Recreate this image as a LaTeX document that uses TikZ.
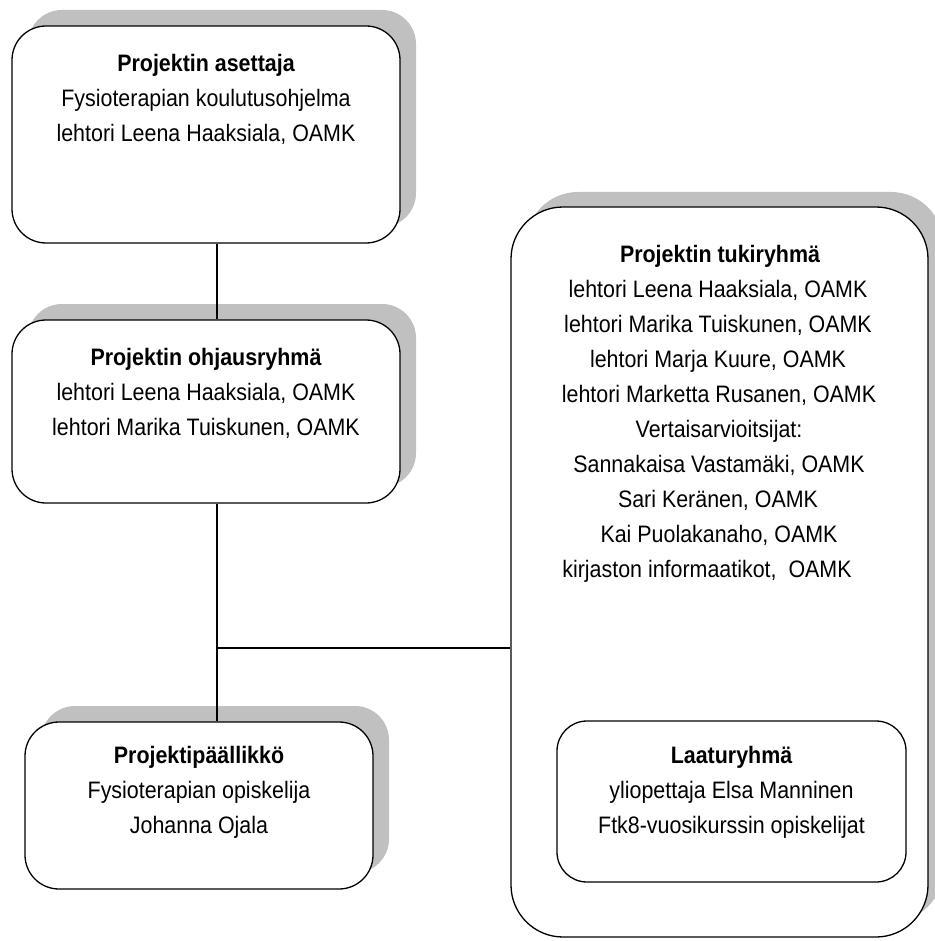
\documentclass[tikz,border=0pt]{standalone}
\usepackage{fontspec}
\setmainfont[FakeStretch=0.9]{Liberation Sans}
\definecolor{shadowgray}{HTML}{C0C0C0}
\begin{document}
\begin{tikzpicture}[x=1pt,y=-1pt,
  box/.style={draw, line width=1.3pt, fill=white, rounded corners=34pt, inner sep=0pt, rectangle},
  bigbox/.style={box, rounded corners=52pt},
  innerbox/.style={box, rounded corners=30pt},
  shadowbox/.style={fill=shadowgray, rounded corners=34pt, inner sep=0pt, rectangle},
  bigshadow/.style={shadowbox, rounded corners=52pt},
  txt/.style={anchor=base, inner sep=0pt, font=\fontsize{23.8}{28}\selectfont},
  ttl/.style={txt, font=\fontsize{23.8}{28}\selectfont\bfseries},
  conn/.style={line width=1.3pt}
]
\useasboundingbox (0,0) rectangle (934,941);
\fill[white] (0,0) rectangle (934,941);

% shadows
\node[shadowbox, minimum width=388pt, minimum height=217pt] (s1) at (222,118.5) {};
\node[shadowbox, minimum width=388pt, minimum height=183pt] (s2) at (222,395.5) {};
\node[shadowbox, minimum width=348pt, minimum height=167pt] (s3) at (215,789.5) {};
\node[bigshadow, minimum width=417pt, minimum height=730pt] (s4) at (734.5,557) {};

% connectors
\coordinate (j) at (217,648);

% boxes
\node[box, minimum width=388pt, minimum height=217pt] (b1) at (206,134.5) {};
\node[box, minimum width=388pt, minimum height=183pt] (b2) at (206,411.5) {};
\node[box, minimum width=348pt, minimum height=167pt] (b3) at (199,805.5) {};
\node[bigbox, minimum width=417pt, minimum height=730pt] (tk) at (719.5,572) {};
\node[innerbox, minimum width=349pt, minimum height=161pt] (lr) at (731.5,801.5) {};

\draw[conn] (j |- b1.south) -- (j |- b2.north);
\draw[conn] (j |- b2.south) -- (j |- b3.north);
\draw[conn] (j) -- (j -| tk.west);

% texts box 1
\node[ttl] (b1t1) at (206,72) {Projektin asettaja};
\node[txt] (b1t2) at (206,107) {Fysioterapian koulutusohjelma};
\node[txt] (b1t3) at (206,142) {lehtori Leena Haaksiala, OAMK};

% texts box 2
\node[ttl] (b2t1) at (206,365) {Projektin ohjausryhmä};
\node[txt] (b2t2) at (206,400) {lehtori Leena Haaksiala, OAMK};
\node[txt] (b2t3) at (206,435) {lehtori Marika Tuiskunen, OAMK};

% texts box 3
\node[ttl] (b3t1) at (199,763) {Projektipäällikkö};
\node[txt] (b3t2) at (199,798) {Fysioterapian opiskelija};
\node[txt] (b3t3) at (199,833) {Johanna Ojala};

% texts tukiryhmä
\node[ttl] (tk1) at (720,262) {Projektin tukiryhmä};
\node[txt] (tk2) at (718,297) {lehtori Leena Haaksiala, OAMK};
\node[txt] (tk3) at (718,332) {lehtori Marika Tuiskunen, OAMK};
\node[txt] (tk4) at (718,367) {lehtori Marja Kuure, OAMK};
\node[txt] (tk5) at (719,402) {lehtori Marketta Rusanen, OAMK};
\node[txt] (tk6) at (719,437) {Vertaisarvioitsijat:};
\node[txt] (tk7) at (719,472) {Sannakaisa Vastamäki, OAMK};
\node[txt] (tk8) at (718,507) {Sari Keränen, OAMK};
\node[txt] (tk9) at (719,542) {Kai Puolakanaho, OAMK};
\node[txt] (tk10) at (707,577) {kirjaston informaatikot,\ \ OAMK};

% texts laaturyhmä
\node[ttl] (lr1) at (731.5,763) {Laaturyhmä};
\node[txt] (lr2) at (731.5,798) {yliopettaja Elsa Manninen};
\node[txt] (lr3) at (731.5,833) {Ftk8-vuosikurssin opiskelijat};
\end{tikzpicture}
\end{document}
